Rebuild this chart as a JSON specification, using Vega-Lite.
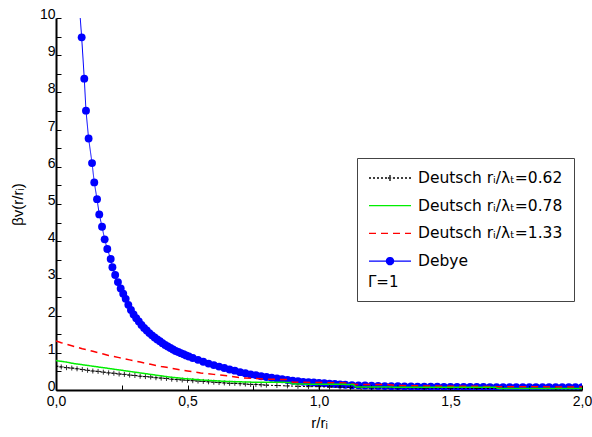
{
  "$schema": "https://vega.github.io/schema/vega-lite/v6.json",
  "width": 526,
  "height": 372,
  "autosize": {"type": "none"},
  "padding": {"left": 56, "top": 18, "right": 10, "bottom": 47},
  "background": "white",
  "config": {
    "font": "Liberation Sans",
    "view": {"stroke": null},
    "axis": {
      "grid": false,
      "domainColor": "#000000",
      "domainWidth": 2,
      "tickColor": "#000000",
      "tickWidth": 1,
      "tickSize": -5,
      "labelColor": "#000000",
      "labelFontSize": 14,
      "labelFont": "Liberation Sans",
      "labelOverlap": false,
      "labelFlush": false,
      "titleColor": "#000000",
      "titleFontSize": 15,
      "titleFontWeight": "normal",
      "titleFont": "Liberation Sans"
    }
  },
  "data": {
    "values": [
      {"s":"d","x":0.088,"y":10.4},{"s":"d","x":0.0976,"y":9.48},{"s":"d","x":0.1075,"y":8.37},{"s":"d","x":0.114,"y":7.51},{"s":"d","x":0.124,"y":6.76},{"s":"d","x":0.137,"y":6.10},{"s":"d","x":0.1455,"y":5.58},{"s":"d","x":0.156,"y":5.13},{"s":"d","x":0.1645,"y":4.72},{"s":"d","x":0.175,"y":4.39},{"s":"d","x":0.185,"y":4.05},{"s":"d","x":0.195,"y":3.79},{"s":"d","x":0.208,"y":3.52},{"s":"d","x":0.2145,"y":3.30},{"s":"d","x":0.225,"y":3.09},{"s":"d","x":0.2355,"y":2.90},{"s":"d","x":0.246,"y":2.73},{"s":"d","x":0.2556,"y":2.59},
      {"s":"d","x":0.265,"y":2.45},{"s":"d","x":0.275,"y":2.29},{"s":"d","x":0.285,"y":2.15},{"s":"d","x":0.295,"y":2.03},{"s":"d","x":0.305,"y":1.93},{"s":"d","x":0.315,"y":1.84},{"s":"d","x":0.325,"y":1.75},{"s":"d","x":0.335,"y":1.67},{"s":"d","x":0.345,"y":1.60},{"s":"d","x":0.355,"y":1.53},{"s":"d","x":0.365,"y":1.47},{"s":"d","x":0.375,"y":1.41},{"s":"d","x":0.385,"y":1.36},{"s":"d","x":0.395,"y":1.31},{"s":"d","x":0.405,"y":1.26},{"s":"d","x":0.415,"y":1.21},{"s":"d","x":0.425,"y":1.17},{"s":"d","x":0.435,"y":1.13},{"s":"d","x":0.445,"y":1.09},{"s":"d","x":0.455,"y":1.05},{"s":"d","x":0.465,"y":1.02},{"s":"d","x":0.475,"y":0.99},{"s":"d","x":0.485,"y":0.96},{"s":"d","x":0.495,"y":0.93},{"s":"d","x":0.505,"y":0.90},
      {"s":"d","x":0.52,"y":0.86},{"s":"d","x":0.54,"y":0.81},{"s":"d","x":0.56,"y":0.76},{"s":"d","x":0.58,"y":0.71},{"s":"d","x":0.60,"y":0.67},{"s":"d","x":0.62,"y":0.63},{"s":"d","x":0.64,"y":0.59},{"s":"d","x":0.66,"y":0.55},{"s":"d","x":0.68,"y":0.52},{"s":"d","x":0.70,"y":0.48},{"s":"d","x":0.72,"y":0.45},{"s":"d","x":0.74,"y":0.42},{"s":"d","x":0.76,"y":0.40},{"s":"d","x":0.78,"y":0.37},{"s":"d","x":0.80,"y":0.35},{"s":"d","x":0.82,"y":0.33},{"s":"d","x":0.84,"y":0.31},{"s":"d","x":0.86,"y":0.29},{"s":"d","x":0.88,"y":0.27},{"s":"d","x":0.90,"y":0.25},{"s":"d","x":0.92,"y":0.24},{"s":"d","x":0.94,"y":0.22},{"s":"d","x":0.96,"y":0.21},{"s":"d","x":0.98,"y":0.20},{"s":"d","x":1.00,"y":0.19},{"s":"d","x":1.02,"y":0.18},{"s":"d","x":1.04,"y":0.17},{"s":"d","x":1.06,"y":0.16},{"s":"d","x":1.08,"y":0.15},{"s":"d","x":1.10,"y":0.14},
      {"s":"d","x":1.125,"y":0.13},{"s":"d","x":1.15,"y":0.125},{"s":"d","x":1.175,"y":0.12},{"s":"d","x":1.2,"y":0.115},{"s":"d","x":1.225,"y":0.11},{"s":"d","x":1.25,"y":0.105},{"s":"d","x":1.275,"y":0.10},{"s":"d","x":1.3,"y":0.10},{"s":"d","x":1.325,"y":0.095},{"s":"d","x":1.35,"y":0.095},{"s":"d","x":1.375,"y":0.09},{"s":"d","x":1.4,"y":0.09},{"s":"d","x":1.425,"y":0.09},{"s":"d","x":1.45,"y":0.088},{"s":"d","x":1.475,"y":0.085},{"s":"d","x":1.5,"y":0.085},{"s":"d","x":1.525,"y":0.083},{"s":"d","x":1.55,"y":0.082},{"s":"d","x":1.575,"y":0.08},{"s":"d","x":1.6,"y":0.08},{"s":"d","x":1.625,"y":0.08},{"s":"d","x":1.65,"y":0.078},{"s":"d","x":1.675,"y":0.078},{"s":"d","x":1.7,"y":0.077},{"s":"d","x":1.725,"y":0.077},{"s":"d","x":1.75,"y":0.076},{"s":"d","x":1.775,"y":0.076},{"s":"d","x":1.8,"y":0.075},{"s":"d","x":1.825,"y":0.075},{"s":"d","x":1.85,"y":0.075},{"s":"d","x":1.875,"y":0.074},{"s":"d","x":1.9,"y":0.074},{"s":"d","x":1.925,"y":0.074},{"s":"d","x":1.95,"y":0.073},{"s":"d","x":1.975,"y":0.073},{"s":"d","x":2.0,"y":0.073},

      {"s":"a","x":0,"y":0.64},{"s":"a","x":0.02,"y":0.62},{"s":"a","x":0.04,"y":0.60},{"s":"a","x":0.06,"y":0.59},{"s":"a","x":0.08,"y":0.57},{"s":"a","x":0.10,"y":0.55},{"s":"a","x":0.12,"y":0.53},{"s":"a","x":0.14,"y":0.51},{"s":"a","x":0.16,"y":0.50},{"s":"a","x":0.18,"y":0.48},{"s":"a","x":0.20,"y":0.46},{"s":"a","x":0.22,"y":0.45},{"s":"a","x":0.24,"y":0.43},{"s":"a","x":0.26,"y":0.42},{"s":"a","x":0.28,"y":0.40},{"s":"a","x":0.30,"y":0.39},{"s":"a","x":0.32,"y":0.37},{"s":"a","x":0.34,"y":0.36},{"s":"a","x":0.36,"y":0.35},{"s":"a","x":0.38,"y":0.33},{"s":"a","x":0.40,"y":0.32},{"s":"a","x":0.42,"y":0.31},{"s":"a","x":0.44,"y":0.29},{"s":"a","x":0.46,"y":0.28},{"s":"a","x":0.48,"y":0.27},{"s":"a","x":0.50,"y":0.26},{"s":"a","x":0.52,"y":0.25},{"s":"a","x":0.54,"y":0.24},{"s":"a","x":0.56,"y":0.23},{"s":"a","x":0.58,"y":0.22},{"s":"a","x":0.60,"y":0.21},{"s":"a","x":0.62,"y":0.20},{"s":"a","x":0.64,"y":0.19},{"s":"a","x":0.66,"y":0.18},{"s":"a","x":0.68,"y":0.18},{"s":"a","x":0.70,"y":0.17},{"s":"a","x":0.72,"y":0.16},{"s":"a","x":0.74,"y":0.15},{"s":"a","x":0.76,"y":0.15},{"s":"a","x":0.78,"y":0.14},{"s":"a","x":0.80,"y":0.13},{"s":"a","x":0.84,"y":0.12},{"s":"a","x":0.88,"y":0.11},{"s":"a","x":0.92,"y":0.10},{"s":"a","x":0.96,"y":0.09},{"s":"a","x":1.00,"y":0.09},{"s":"a","x":1.04,"y":0.08},{"s":"a","x":1.08,"y":0.08},{"s":"a","x":1.12,"y":0.07},{"s":"a","x":1.16,"y":0.07},{"s":"a","x":1.20,"y":0.06},{"s":"a","x":1.3,"y":0.06},{"s":"a","x":1.4,"y":0.05},{"s":"a","x":1.5,"y":0.05},{"s":"a","x":1.6,"y":0.04},{"s":"a","x":1.7,"y":0.04},{"s":"a","x":1.8,"y":0.04},{"s":"a","x":1.9,"y":0.03},{"s":"a","x":2.0,"y":0.03},

      {"s":"b","x":0,"y":0.79},{"s":"b","x":0.02,"y":0.77},{"s":"b","x":0.04,"y":0.75},{"s":"b","x":0.06,"y":0.72},{"s":"b","x":0.08,"y":0.70},{"s":"b","x":0.10,"y":0.68},{"s":"b","x":0.12,"y":0.66},{"s":"b","x":0.14,"y":0.64},{"s":"b","x":0.16,"y":0.62},{"s":"b","x":0.18,"y":0.60},{"s":"b","x":0.20,"y":0.58},{"s":"b","x":0.22,"y":0.56},{"s":"b","x":0.24,"y":0.54},{"s":"b","x":0.26,"y":0.52},{"s":"b","x":0.28,"y":0.50},{"s":"b","x":0.30,"y":0.48},{"s":"b","x":0.32,"y":0.46},{"s":"b","x":0.34,"y":0.44},{"s":"b","x":0.36,"y":0.42},{"s":"b","x":0.38,"y":0.40},{"s":"b","x":0.40,"y":0.38},{"s":"b","x":0.42,"y":0.36},{"s":"b","x":0.44,"y":0.34},{"s":"b","x":0.46,"y":0.33},{"s":"b","x":0.48,"y":0.31},{"s":"b","x":0.50,"y":0.30},{"s":"b","x":0.55,"y":0.27},{"s":"b","x":0.60,"y":0.25},{"s":"b","x":0.65,"y":0.23},{"s":"b","x":0.70,"y":0.22},{"s":"b","x":0.75,"y":0.21},{"s":"b","x":0.80,"y":0.21},{"s":"b","x":0.85,"y":0.21},{"s":"b","x":0.89,"y":0.20},{"s":"b","x":0.90,"y":0.16},{"s":"b","x":1.00,"y":0.155},{"s":"b","x":1.13,"y":0.15},{"s":"b","x":1.14,"y":0.08},{"s":"b","x":1.40,"y":0.075},{"s":"b","x":1.67,"y":0.075},{"s":"b","x":1.68,"y":0.04},{"s":"b","x":2.0,"y":0.04},

      {"s":"c","x":0,"y":1.32},{"s":"c","x":0.02,"y":1.27},{"s":"c","x":0.04,"y":1.23},{"s":"c","x":0.06,"y":1.19},{"s":"c","x":0.08,"y":1.15},{"s":"c","x":0.10,"y":1.11},{"s":"c","x":0.12,"y":1.08},{"s":"c","x":0.14,"y":1.04},{"s":"c","x":0.16,"y":1.00},{"s":"c","x":0.18,"y":0.97},{"s":"c","x":0.20,"y":0.93},{"s":"c","x":0.22,"y":0.90},{"s":"c","x":0.24,"y":0.87},{"s":"c","x":0.26,"y":0.84},{"s":"c","x":0.28,"y":0.81},{"s":"c","x":0.30,"y":0.78},{"s":"c","x":0.32,"y":0.75},{"s":"c","x":0.34,"y":0.72},{"s":"c","x":0.36,"y":0.69},{"s":"c","x":0.38,"y":0.66},{"s":"c","x":0.40,"y":0.63},{"s":"c","x":0.42,"y":0.61},{"s":"c","x":0.44,"y":0.58},{"s":"c","x":0.46,"y":0.56},{"s":"c","x":0.48,"y":0.53},{"s":"c","x":0.50,"y":0.51},{"s":"c","x":0.55,"y":0.46},{"s":"c","x":0.60,"y":0.42},{"s":"c","x":0.65,"y":0.38},{"s":"c","x":0.70,"y":0.33},{"s":"c","x":0.75,"y":0.31},{"s":"c","x":0.80,"y":0.29},{"s":"c","x":0.88,"y":0.28},{"s":"c","x":0.90,"y":0.21},{"s":"c","x":1.00,"y":0.20},{"s":"c","x":1.10,"y":0.19},{"s":"c","x":1.14,"y":0.15},{"s":"c","x":1.26,"y":0.15},{"s":"c","x":1.30,"y":0.12},{"s":"c","x":1.40,"y":0.11},{"s":"c","x":1.50,"y":0.10},{"s":"c","x":1.60,"y":0.10},{"s":"c","x":1.68,"y":0.09},{"s":"c","x":1.80,"y":0.09},{"s":"c","x":1.90,"y":0.08},{"s":"c","x":2.00,"y":0.08}
    ]
  },
  "encoding": {
    "x": {
      "field": "x", "type": "quantitative",
      "scale": {"domain": [0, 2], "nice": false, "zero": false},
      "axis": {
        "title": "r/rᵢ",
        "values": [0, 0.25, 0.5, 0.75, 1, 1.25, 1.5, 1.75, 2],
        "labelExpr": "datum.value % 0.5 == 0 ? replace(format(datum.value, '.1f'), '.', ',') : ''",
        "labelPadding": 9,
        "titlePadding": 7
      }
    },
    "y": {
      "field": "y", "type": "quantitative",
      "scale": {"domain": [0, 10], "nice": false},
      "axis": {
        "title": "βv(r/rᵢ)",
        "values": [0, 0.5, 1, 1.5, 2, 2.5, 3, 3.5, 4, 4.5, 5, 5.5, 6, 6.5, 7, 7.5, 8, 8.5, 9, 9.5, 10],
        "labelExpr": "datum.value % 1 == 0 ? format(datum.value, 'd') : ''",
        "labelPadding": 6,
        "labelOffset": -3.5,
        "titlePadding": 14
      }
    }
  },
  "layer": [
    {
      "transform": [{"filter": "datum.s == 'd'"}],
      "mark": {"type": "point", "shape": "circle", "filled": true, "size": 62, "opacity": 1, "clip": true},
      "encoding": {"color": {"value": "#0000ff"}}
    },
    {
      "transform": [{"filter": "datum.s == 'd'"}],
      "mark": {"type": "line", "strokeWidth": 1, "clip": true},
      "encoding": {
        "color": {
          "field": "s", "type": "nominal",
          "scale": {"domain": ["a", "b", "c", "d"], "range": ["#000000", "#00ee00", "#ff0000", "#0000ff"]},
          "legend": {
            "orient": "none", "legendX": 301, "legendY": 140,
            "title": "Γ=1", "titleOrient": "bottom", "titleAnchor": "start",
            "titleFontSize": 15, "titleFontWeight": "normal", "titleColor": "#000000", "titleFont": "DejaVu Sans", "titlePadding": 5,
            "labelExpr": "datum.value == 'a' ? 'Deutsch rᵢ/λₜ=0.62' : datum.value == 'b' ? 'Deutsch rᵢ/λₜ=0.78' : datum.value == 'c' ? 'Deutsch rᵢ/λₜ=1.33' : 'Debye'",
            "labelFontSize": 15.5, "labelColor": "#000000", "labelFont": "DejaVu Sans", "labelOffset": 6, "labelLimit": 300,
            "symbolSize": 1764, "symbolStrokeWidth": 1.3,
            "clipHeight": 18, "rowPadding": 9.7,
            "padding": 11, "strokeColor": "#444444", "fillColor": "#ffffff",
            "encode": {
              "symbols": {
                "update": {
                  "shape": {"signal": "datum.value == 'd' ? 'M-1,0H1M0.17,0A0.17,0.17,0,1,1,-0.17,0A0.17,0.17,0,1,1,0.17,0Z' : datum.value == 'a' ? 'M-1,0H1M0,-0.14V0.14M-0.1,0H0.1' : 'M-1,0H1'"},
                  "fill": {"signal": "datum.value == 'd' ? '#0000ff' : 'transparent'"}
                }
              }
            }
          }
        },
        "strokeDash": {
          "field": "s", "type": "nominal",
          "scale": {"domain": ["a", "b", "c", "d"], "range": [[2, 2], [1, 0], [7, 5], [1, 0]]}
        }
      }
    },
    {
      "transform": [{"filter": "datum.s == 'a'"}],
      "mark": {"type": "line", "strokeWidth": 1, "clip": true},
      "encoding": {
        "color": {"field": "s", "type": "nominal", "scale": {"domain": ["a", "b", "c", "d"], "range": ["#000000", "#00ee00", "#ff0000", "#0000ff"]}},
        "strokeDash": {"field": "s", "type": "nominal", "scale": {"domain": ["a", "b", "c", "d"], "range": [[2, 2], [1, 0], [7, 5], [1, 0]]}}
      }
    },
    {
      "transform": [{"filter": "datum.s == 'a'"}],
      "mark": {"type": "point", "shape": "M-1,0H1M0,-1V1", "filled": false, "size": 25, "strokeWidth": 1, "opacity": 0.8, "clip": true},
      "encoding": {"color": {"value": "#000000"}}
    },
    {
      "transform": [{"filter": "datum.s == 'c'"}],
      "mark": {"type": "line", "strokeWidth": 1.5, "clip": true},
      "encoding": {
        "color": {"field": "s", "type": "nominal", "scale": {"domain": ["a", "b", "c", "d"], "range": ["#000000", "#00ee00", "#ff0000", "#0000ff"]}},
        "strokeDash": {"field": "s", "type": "nominal", "scale": {"domain": ["a", "b", "c", "d"], "range": [[2, 2], [1, 0], [7, 5], [1, 0]]}}
      }
    },
    {
      "transform": [{"filter": "datum.s == 'b'"}],
      "mark": {"type": "line", "strokeWidth": 1.5, "clip": true},
      "encoding": {
        "color": {"field": "s", "type": "nominal", "scale": {"domain": ["a", "b", "c", "d"], "range": ["#000000", "#00ee00", "#ff0000", "#0000ff"]}},
        "strokeDash": {"field": "s", "type": "nominal", "scale": {"domain": ["a", "b", "c", "d"], "range": [[2, 2], [1, 0], [7, 5], [1, 0]]}}
      }
    }
  ]
}
